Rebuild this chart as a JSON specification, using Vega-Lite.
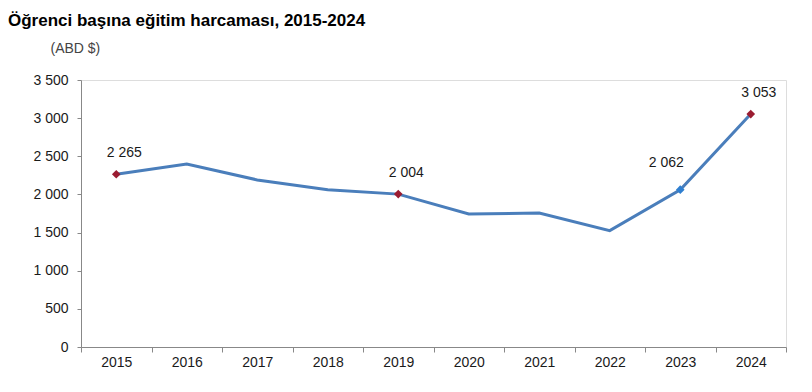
{
  "$schema": "https://vega.github.io/schema/vega-lite/v6.json",
  "width": 705,
  "height": 267,
  "autosize": {"type": "none"},
  "padding": {"left": 81, "top": 80, "right": 26, "bottom": 45},
  "background": "#ffffff",
  "title": {
    "text": "Öğrenci başına eğitim harcaması, 2015-2024",
    "anchor": "start",
    "frame": "group",
    "dx": -73,
    "offset": 11,
    "font": "Liberation Sans",
    "fontSize": 17,
    "fontWeight": "bold",
    "color": "#000000"
  },
  "data": {
    "values": [
      {"year": "2015", "value": 2265, "label": "2 265"},
      {"year": "2016", "value": 2400, "label": ""},
      {"year": "2017", "value": 2190, "label": ""},
      {"year": "2018", "value": 2060, "label": ""},
      {"year": "2019", "value": 2004, "label": "2 004"},
      {"year": "2020", "value": 1744, "label": ""},
      {"year": "2021", "value": 1757, "label": ""},
      {"year": "2022", "value": 1525, "label": ""},
      {"year": "2023", "value": 2062, "label": "2 062"},
      {"year": "2024", "value": 3053, "label": "3 053"}
    ]
  },
  "encoding": {
    "x": {
      "field": "year",
      "type": "ordinal",
      "scale": {"type": "band", "paddingInner": 0, "paddingOuter": 0},
      "axis": {
        "title": null,
        "labelAngle": 0,
        "tickBand": "extent",
        "domainColor": "#888888",
        "tickColor": "#888888",
        "tickSize": 5,
        "labelPadding": 3,
        "labelFont": "Liberation Sans",
        "labelFontSize": 14,
        "labelColor": "#1a1a1a",
        "grid": false
      }
    },
    "y": {
      "field": "value",
      "type": "quantitative",
      "scale": {"domain": [0, 3500], "nice": false, "zero": true},
      "axis": {
        "values": [0, 500, 1000, 1500, 2000, 2500, 3000, 3500],
        "labelExpr": "replace(format(datum.value, ','), ',', ' ')",
        "grid": false,
        "domainColor": "#888888",
        "tickColor": "#888888",
        "tickSize": 4,
        "labelPadding": 9,
        "labelFont": "Liberation Sans",
        "labelFontSize": 14,
        "labelColor": "#1a1a1a",
        "title": "(ABD $)",
        "titleAngle": 0,
        "titleAlign": "left",
        "titleBaseline": "alphabetic",
        "titleX": -31,
        "titleY": -28,
        "titleFont": "Liberation Sans",
        "titleFontSize": 14,
        "titleFontWeight": "normal",
        "titleColor": "#444444"
      }
    }
  },
  "layer": [
    {
      "mark": {"type": "line", "color": "#4a7ebb", "strokeWidth": 3}
    },
    {
      "transform": [{"filter": "datum.year == '2015' || datum.year == '2019' || datum.year == '2024'"}],
      "mark": {"type": "point", "shape": "diamond", "filled": true, "color": "#9b1c31", "size": 75, "opacity": 1}
    },
    {
      "transform": [{"filter": "datum.year == '2023'"}],
      "mark": {"type": "point", "shape": "diamond", "filled": true, "color": "#2f7fd0", "size": 75, "opacity": 1}
    },
    {
      "transform": [{"filter": "datum.year == '2015' || datum.year == '2019' || datum.year == '2024'"}],
      "mark": {"type": "text", "dx": 8, "dy": -21, "font": "Liberation Sans", "fontSize": 14, "color": "#1a1a1a", "baseline": "middle"},
      "encoding": {"text": {"field": "label"}}
    },
    {
      "transform": [{"filter": "datum.year == '2023'"}],
      "mark": {"type": "text", "dx": -14, "dy": -27, "font": "Liberation Sans", "fontSize": 14, "color": "#1a1a1a", "baseline": "middle"},
      "encoding": {"text": {"field": "label"}}
    }
  ]
}
